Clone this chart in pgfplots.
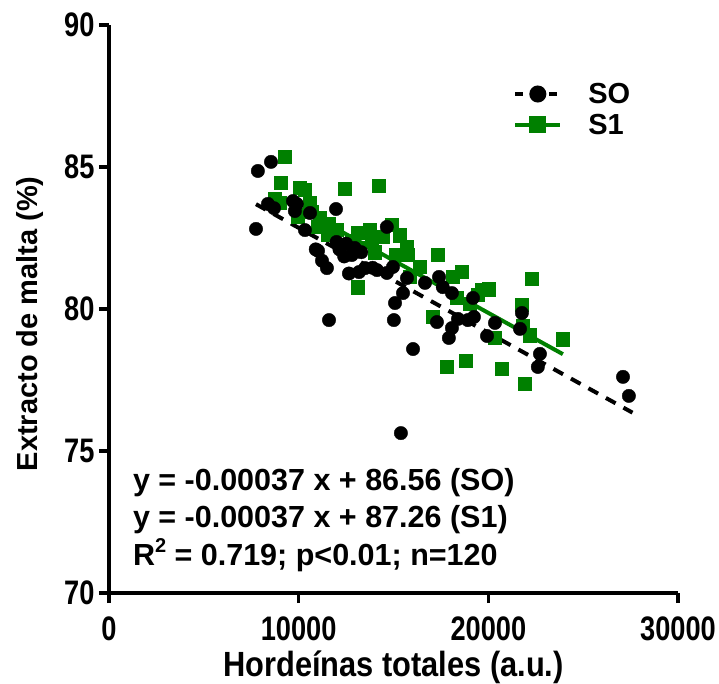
\documentclass[border=0pt]{standalone}
\usepackage{pgfplots}
\usepackage{pgfplotstable}
\pgfplotsset{compat=1.18}
\usepackage{fontspec}
\setmainfont{Liberation Sans}
\newfontfamily\narrowfont{Liberation Sans}[FakeStretch=0.8]
\newfontfamily\labelfont{Liberation Sans}[FakeStretch=0.88]
\definecolor{sgreen}{RGB}{0,128,0}

% SO (circles)
\pgfplotstableread{
x y
7850 84.86
8540 85.18
7750 82.82
8380 83.70
8700 83.55
9700 83.80
9800 83.45
9900 83.70
10330 82.78
10600 83.38
11970 83.52
11020 82.05
11230 81.70
11490 81.44
11600 79.61
12000 82.36
12500 82.30
12150 82.10
12400 81.85
12950 82.15
12650 81.25
13180 81.30
13500 81.44
14130 81.37
14650 82.89
14970 81.48
14650 81.27
15080 80.21
15500 80.56
15020 79.61
15710 81.09
16660 80.92
17400 81.13
17600 80.77
18080 80.56
17290 79.54
18080 79.33
15390 75.63
19190 80.39
17920 78.98
18400 79.65
18920 79.61
19240 79.72
19930 79.05
20350 79.51
21770 79.86
21670 79.30
22720 78.42
22610 77.96
27100 77.61
27410 76.94
16030 78.59
12800 81.90
13300 82.00
13900 81.45
10900 82.10
}\soData

% S1 (squares)
\pgfplotstableread{
x y
9280 85.35
9070 84.44
10070 84.26
10330 84.19
12440 84.23
14230 84.33
8750 83.87
9010 83.73
10600 83.73
9960 83.24
11120 83.20
10700 83.42
11020 82.89
11540 82.61
13130 82.68
13760 82.78
14440 82.54
14920 82.96
13230 82.15
13860 82.36
15710 82.18
15760 81.90
15100 81.90
17340 81.90
13130 80.77
15870 81.13
18130 81.13
18600 81.30
19450 80.49
20030 80.70
22300 81.06
21770 80.14
21820 79.40
22190 79.08
23930 78.94
17080 79.72
20350 78.98
17820 77.96
18820 78.17
20720 77.89
21930 77.36
15340 82.60
18340 80.39
19660 80.67
12000 82.80
12800 82.40
11600 83.00
16400 81.50
14000 82.00
19000 80.20
}\sOneData

\begin{document}
\begin{tikzpicture}
\begin{axis}[
  scale only axis, width=569bp, height=568bp,
  xmin=0, xmax=30000, ymin=70, ymax=90,
  axis lines=left,
  axis line style={line width=4bp, -},
  xtick={0,10000,20000,30000},
  ytick={70,75,80,85,90},
  tick align=outside,
  major tick length=10bp,
  every tick/.style={black, line width=3.5bp},
  scaled x ticks=false,
  /pgf/number format/1000 sep={},
  /pgf/number format/assume math mode=true,
  tick label style={font=\narrowfont\bfseries\fontsize{34bp}{38bp}\selectfont},
  xticklabel style={yshift=-10bp},
  yticklabel style={xshift=-1bp},
  xlabel={Hordeínas totales (a.u.)},
  ylabel={Extracto de malta (\%)},
  xlabel style={font=\labelfont\bfseries\fontsize{35bp}{40bp}\selectfont,
    at={(axis description cs:0.5,-0.131)}, anchor=center},
  ylabel style={font=\bfseries\fontsize{29bp}{32bp}\selectfont,
    at={(axis description cs:-0.139,0.474)}, anchor=center},
  legend style={draw=none, fill=none, at={(axis description cs:0.705,0.905)},
    anchor=north west, font=\bfseries\fontsize{29bp}{32bp}\selectfont,
    row sep=5bp,
    /tikz/every odd column/.append style={column sep=24bp}},
  legend cell align=left,
  legend image code/.code={
    \draw[#1] (0bp,0bp) -- (45bp,0bp);
    \draw[#1, only marks] plot coordinates {(22.5bp,0bp)};
  },
]
\addplot[only marks, mark=square*, mark size=6.6bp, sgreen, forget plot] table[x=x,y=y] {\sOneData};
\addplot[sgreen, line width=4bp, forget plot] coordinates {(8750,84.02) (23930,78.41)};
\addplot[only marks, mark=*, mark size=6.7bp, black, forget plot] table[x=x,y=y] {\soData};
\addplot[black, line width=4bp, dash pattern=on 11bp off 9bp, forget plot] coordinates {(7750,83.69) (27600,76.35)};

\addlegendimage{black, line width=4bp, dash pattern=on 8bp off 9bp, mark=*, mark size=6.5bp, mark options={solid}}
\addlegendentry{SO}
\addlegendimage{sgreen, line width=4bp, mark=square*, mark size=6.5bp}
\addlegendentry{S1}

\node[anchor=base west, font=\bfseries\fontsize{30.5bp}{32bp}\selectfont] at (axis description cs:0.036,0.181) {y = -0.00037 x + 86.56 (SO)};
\node[anchor=base west, font=\bfseries\fontsize{30.5bp}{32bp}\selectfont] at (axis description cs:0.036,0.116) {y = -0.00037 x + 87.26 (S1)};
\node[anchor=base west, font=\bfseries\fontsize{30.5bp}{32bp}\selectfont] at (axis description cs:0.036,0.048) {R\raisebox{0.45em}{\fontsize{20bp}{22bp}\selectfont 2} = 0.719; p<0.01; n=120};
\end{axis}
\pgfresetboundingbox
\path[use as bounding box] (-109bp,-91bp) rectangle (610bp,593bp);
\end{tikzpicture}
\end{document}
